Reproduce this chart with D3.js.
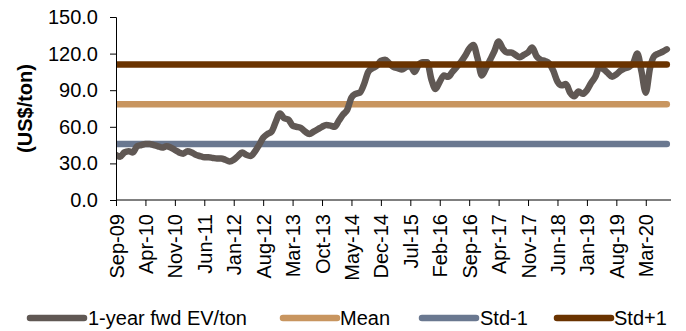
<!DOCTYPE html>
<html>
<head>
<meta charset="utf-8">
<script src="https://cdn.jsdelivr.net/npm/d3@7"></script>
<style>
  html, body { margin: 0; padding: 0; background: #fff; }
  svg { display: block; font-family: "Liberation Sans", Arial, sans-serif; }
</style>
</head>
<body>
<svg id="chart" width="686" height="331"></svg>
<script>
// Monthly 1-year forward EV/ton, Sep-09 .. Aug-20 (US$/ton)
const evPerTon = [
  37, 35.5, 39, 40, 39, 44, 45, 46, 46, 45,
  44, 43, 44, 43, 41, 39, 38, 40, 39, 37,
  36, 35, 35, 34.5, 34, 34, 33, 31.5, 33, 36,
  39, 37, 36, 39.5, 45, 51, 54, 56, 64, 71,
  67, 66, 61, 60, 59, 56, 54, 56, 58, 60,
  61.5, 61, 60, 65, 70, 74, 84, 87, 88, 95,
  105, 108, 110, 114, 115, 112, 109, 108, 107, 109,
  110, 105, 111, 113, 113, 99, 91, 97, 102, 101,
  105, 109, 113, 118, 124, 127, 116, 102, 108, 115,
  122, 130, 124, 121, 121, 119, 117, 119, 121, 125,
  118, 115, 114, 112, 106, 97, 94, 95, 88, 85,
  89, 87, 90, 96, 101, 109, 107, 104, 101, 103,
  106, 108, 109, 112, 120, 105, 88, 108, 118, 120,
  121.5, 123.5
];
const meanValue = 78.5;
const stdMinus1 = 46.0;
const stdPlus1 = 111.0;

// x-axis labels, one every seven months starting at Sep-09
const tickLabels = ["Sep-09","Apr-10","Nov-10","Jun-11","Jan-12","Aug-12","Mar-13","Oct-13",
  "May-14","Dec-14","Jul-15","Feb-16","Sep-16","Apr-17","Nov-17","Jun-18","Jan-19","Aug-19","Mar-20"];
const yTicks = [0, 30, 60, 90, 120, 150];

const seriesNames = ["1-year fwd EV/ton", "Mean", "Std-1", "Std+1"];
const seriesColors = ["#605854", "#c8955f", "#6a7890", "#6a3300"];

const svg = d3.select("#chart");
const plotLeft = 116, plotRight = 671, plotTop = 17, plotBottom = 200;

const x = d3.scaleLinear().domain([0, 132]).range([plotLeft, plotRight]);
const y = d3.scaleLinear().domain([0, 150]).range([plotBottom, plotTop]);

svg.append("defs").append("clipPath").attr("id", "plotClip")
  .append("rect").attr("x", plotLeft).attr("y", 0).attr("width", 686 - plotLeft).attr("height", 331);

const plot = svg.append("g").attr("clip-path", "url(#plotClip)");
const lastIdx = evPerTon.length - 1;

function refLine(v, c) {
  plot.append("path")
    .datum([0, lastIdx])
    .attr("d", d3.line().x(d => x(d)).y(() => y(v)))
    .attr("fill", "none")
    .attr("stroke", c)
    .attr("stroke-width", 6.5)
    .attr("stroke-linecap", "round");
}

// Reference bands: mean and -1 standard deviation
refLine(stdMinus1, seriesColors[2]);
refLine(meanValue, seriesColors[1]);

// Main series
plot.append("path")
  .datum(evPerTon)
  .attr("d", d3.line().x((d, i) => x(i)).y(d => y(d)).curve(d3.curveMonotoneX))
  .attr("fill", "none")
  .attr("stroke", seriesColors[0])
  .attr("stroke-width", 6.5)
  .attr("stroke-linejoin", "round")
  .attr("stroke-linecap", "round");

// +1 standard deviation sits above the series line
refLine(stdPlus1, seriesColors[3]);

// Y axis
const yAxis = svg.append("g").attr("transform", `translate(${plotLeft},0)`)
  .call(d3.axisLeft(y).tickValues(yTicks).tickSize(6).tickPadding(12).tickFormat(d3.format(".1f")));
yAxis.selectAll("text").attr("font-size", 20).attr("fill", "#000").attr("font-family", "Liberation Sans, Arial, sans-serif");
yAxis.selectAll("line").attr("stroke", "#000");
yAxis.select(".domain").attr("stroke", "#000");

// X axis
const xAxis = svg.append("g").attr("transform", `translate(0,${plotBottom})`)
  .call(d3.axisBottom(x).tickValues(d3.range(tickLabels.length).map(k => k * 7))
    .tickSize(6).tickSizeOuter(0).tickFormat((d, k) => tickLabels[k]));
xAxis.selectAll("line").attr("stroke", "#000");
xAxis.select(".domain").attr("stroke", "#000").attr("d", `M${plotLeft},0H${plotRight}`);
xAxis.selectAll("text")
  .attr("font-size", 20).attr("fill", "#000").attr("font-family", "Liberation Sans, Arial, sans-serif")
  .attr("text-anchor", "end")
  .attr("transform", "rotate(-90)")
  .attr("x", -14).attr("y", 0).attr("dy", "0.35em");

// Y axis title
svg.append("text")
  .attr("transform", `translate(32,${(plotTop + plotBottom) / 2}) rotate(-90)`)
  .attr("text-anchor", "middle")
  .attr("font-size", 20).attr("font-weight", "bold").attr("fill", "#000")
  .text("(US$/ton)");

// Legend
const legendItems = [
  { x: 30, textX: 88 },
  { x: 283, textX: 340 },
  { x: 422, textX: 480 },
  { x: 557, textX: 614 }
];
const legend = svg.append("g");
legendItems.forEach((it, k) => {
  legend.append("line")
    .attr("x1", it.x).attr("x2", it.x + 54)
    .attr("y1", 318).attr("y2", 318)
    .attr("stroke", seriesColors[k]).attr("stroke-width", 6.5).attr("stroke-linecap", "round");
  legend.append("text")
    .attr("x", it.textX).attr("y", 318).attr("dy", "0.35em")
    .attr("font-size", 20).attr("fill", "#000")
    .text(seriesNames[k]);
});
</script>
</body>
</html>
